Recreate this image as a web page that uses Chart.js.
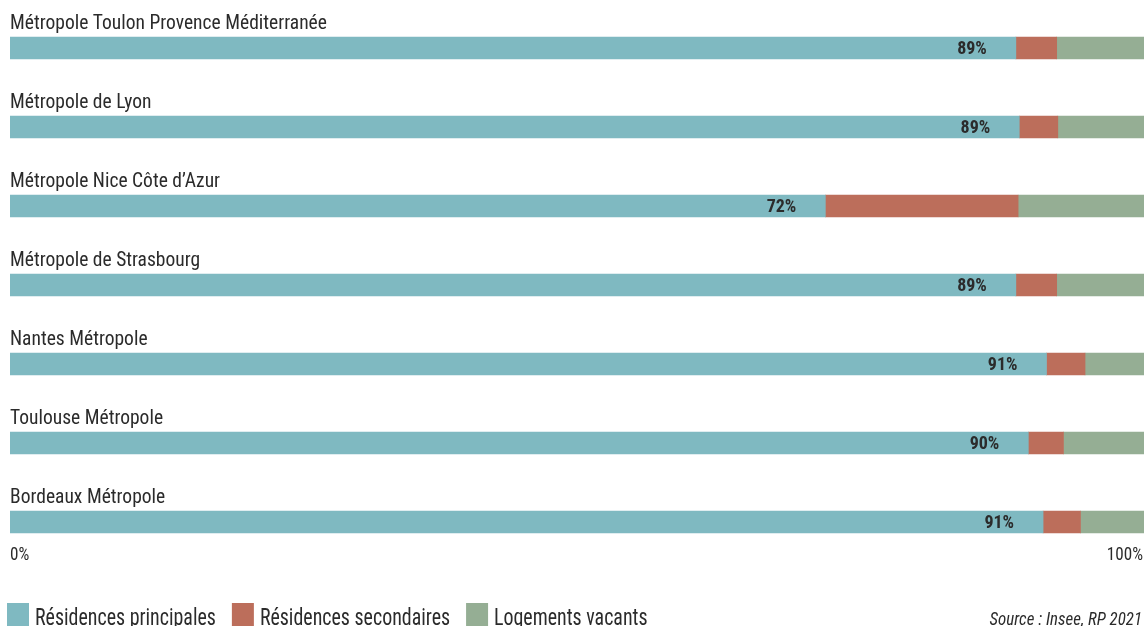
<!DOCTYPE html>
<html>
<head>
<meta charset="utf-8">
<script src="https://cdn.jsdelivr.net/npm/chart.js@4/dist/chart.umd.min.js"></script>
<style>
  html, body { margin: 0; padding: 0; background: #fff; }
  #wrap { width: 1144px; height: 626px; }
</style>
</head>
<body>
<div id="wrap"><canvas id="chart" width="1144" height="626"></canvas></div>
<script>
// values, in percent of all housing
const categories = [
  'Métropole Toulon Provence Méditerranée',
  'Métropole de Lyon',
  'Métropole Nice Côte d’Azur',
  'Métropole de Strasbourg',
  'Nantes Métropole',
  'Toulouse Métropole',
  'Bordeaux Métropole',
];
const principales = [88.7, 89.0, 71.9, 88.7, 91.4, 89.8, 91.1];
const secondaires = [3.6, 3.4, 17.0, 3.6, 3.4, 3.1, 3.3];
const vacants     = [7.7, 7.6, 11.1, 7.7, 5.2, 7.1, 5.6];
const seriesNames = ['Résidences principales', 'Résidences secondaires', 'Logements vacants'];
const xTicks = [0, 100];
const sourceText = 'Source : Insee, RP 2021';

const FONT = '"Roboto Condensed", "Liberation Sans Narrow", "DejaVu Sans Condensed", sans-serif';
const INK = '#2b2b2b';
const COLORS = ['#7fb9c1', '#bc6e5b', '#95ae94'];

// the reference face is narrower than anything installed: squeeze horizontally
function squeezed(ctx, text, x, y, sx) {
  ctx.save();
  ctx.translate(x, y);
  ctx.scale(sx, 1);
  ctx.fillText(text, 0, 0);
  ctx.restore();
}

// names above each bar, % inside the first segment, axis ends, legend and source
const overlay = {
  id: 'overlay',
  afterDraw(chart) {
    const { ctx, scales: { x, y } } = chart;
    const half = 11;
    ctx.save();
    ctx.fillStyle = INK;

    ctx.font = '21px ' + FONT;
    ctx.textAlign = 'left';
    ctx.textBaseline = 'alphabetic';
    categories.forEach((name, i) => {
      squeezed(ctx, name, x.left, y.getPixelForValue(i) - half - 8, 0.93);
    });

    ctx.font = 'bold 18px ' + FONT;
    ctx.textAlign = 'right';
    ctx.textBaseline = 'middle';
    principales.forEach((v, i) => {
      ctx.fillText(Math.round(v) + '%', x.getPixelForValue(v) - 29, y.getPixelForValue(i) + 1);
    });

    ctx.font = '18px ' + FONT;
    ctx.textBaseline = 'middle';
    xTicks.forEach((v, k) => {
      ctx.textAlign = k === 0 ? 'left' : 'right';
      squeezed(ctx, v + '%', x.getPixelForValue(v) - (k === 0 ? 0 : 1), 555, 0.95);
    });

    // legend: square, then the series name, sitting lower than the square like the original
    ctx.font = '24px ' + FONT;
    ctx.textAlign = 'left';
    ctx.textBaseline = 'alphabetic';
    let lx = 7;
    chart.data.datasets.forEach(ds => {
      ctx.fillStyle = ds.backgroundColor;
      ctx.fillRect(lx, 603, 22, 23);
      ctx.fillStyle = INK;
      squeezed(ctx, ds.label, lx + 28, 624.5, 0.83);
      lx += 28 + ctx.measureText(ds.label).width * 0.83 + 16;
    });

    ctx.font = 'italic 19px ' + FONT;
    ctx.textAlign = 'right';
    squeezed(ctx, sourceText, chart.width - 2, 625, 0.89);
    ctx.restore();
  },
};

new Chart(document.getElementById('chart'), {
  type: 'bar',
  data: {
    labels: categories,
    datasets: [principales, secondaires, vacants].map((data, k) => ({
      label: seriesNames[k],
      data,
      backgroundColor: COLORS[k],
      borderWidth: 0,
      barThickness: 22,
    })),
  },
  options: {
    indexAxis: 'y',
    responsive: false,
    animation: false,
    devicePixelRatio: 1,
    layout: { padding: { top: 8.5, left: 10, right: 0, bottom: 36.5 } },
    scales: {
      x: {
        stacked: true,
        min: 0,
        max: 100,
        grid: { display: false, drawTicks: false },
        border: { display: false },
        ticks: { display: false },
        afterFit(scale) { scale.height = 28; },
      },
      y: {
        stacked: true,
        display: false,
      },
    },
    plugins: {
      tooltip: { enabled: false },
      legend: { display: false },
    },
  },
  plugins: [overlay],
});
</script>
</body>
</html>
